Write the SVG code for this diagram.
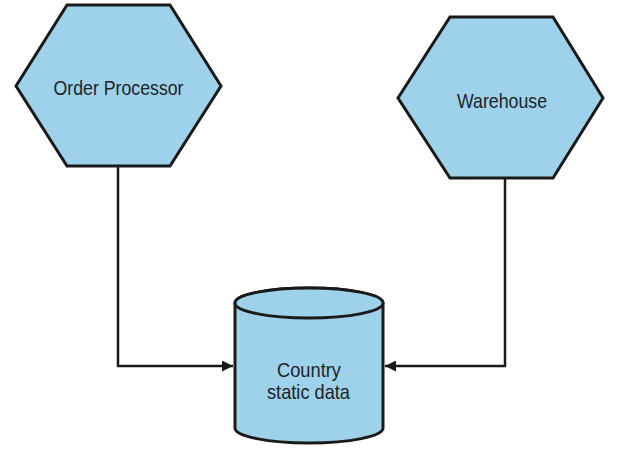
<svg xmlns="http://www.w3.org/2000/svg" width="633" height="455" viewBox="0 0 633 455">
<style>
.shape{fill:#9dd2ea;stroke:#1a1a1a;stroke-width:3;stroke-linejoin:miter}
.conn{fill:none;stroke:#1a1a1a;stroke-width:2.5}
.lbl{font-family:"Liberation Sans",Arial,sans-serif;font-size:21px;fill:#1e2328;text-anchor:middle}
</style>
<defs>
<marker id="arr" viewBox="0 0 10 10" refX="10" refY="5" markerWidth="4.4" markerHeight="4.4" orient="auto" markerUnits="strokeWidth">
<path d="M0,0 L10,5 L0,10 Z" fill="#1a1a1a"/>
</marker>
</defs>
<rect width="633" height="455" fill="#ffffff"/>
<g id="connectors">
<path class="conn" d="M118,166 V366 H233" marker-end="url(#arr)"/>
<path class="conn" d="M505,178 V366 H385" marker-end="url(#arr)"/>
</g>
<g id="order-processor">
<polygon class="shape" points="67,5 170,5 221,86 170,166 67,166 16,86"/>
<text class="lbl" x="118.5" y="95" textLength="130" lengthAdjust="spacingAndGlyphs">Order Processor</text>
</g>
<g id="warehouse">
<polygon class="shape" points="450,17 553,17 603,98 553,178 450,178 398,98"/>
<text class="lbl" x="502" y="108" textLength="90" lengthAdjust="spacingAndGlyphs">Warehouse</text>
</g>
<g id="country-static-data">
<path class="shape" d="M235,303 V428 A74,15 0 0 0 383,428 V303 A74,15 0 0 0 235,303 Z"/>
<ellipse class="shape" cx="309" cy="303" rx="74" ry="15"/>
<text class="lbl" x="309" y="377" textLength="64" lengthAdjust="spacingAndGlyphs">Country</text>
<text class="lbl" x="308.5" y="399" textLength="83" lengthAdjust="spacingAndGlyphs">static data</text>
</g>
</svg>
